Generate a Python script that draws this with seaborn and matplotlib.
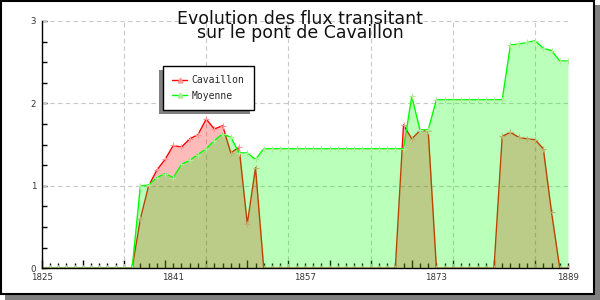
import numpy as np
import pandas as pd
import matplotlib
matplotlib.use("Agg")
import matplotlib.pyplot as plt
import seaborn as sns
from matplotlib.patches import Rectangle
from matplotlib.lines import Line2D
from matplotlib.transforms import IdentityTransform
from matplotlib.ticker import MultipleLocator, FixedLocator, NullFormatter

years = list(range(1825, 1890))
cavaillon = ([0.0] * 12 +
             [0.60, 1.00, 1.19, 1.32, 1.49, 1.47, 1.57, 1.62, 1.81, 1.69, 1.73, 1.40, 1.47, 0.54, 1.22] +
             [0.0] * 17 +
             [1.74, 1.57, 1.67, 1.67] +
             [0.0] * 8 +
             [1.60, 1.65, 1.59, 1.57, 1.56, 1.45, 0.68] +
             [0.0, 0.0])
moyenne = ([0.0] * 12 +
           [1.00, 1.01, 1.10, 1.15, 1.10, 1.26, 1.31, 1.38, 1.45, 1.55, 1.63, 1.59, 1.40, 1.40, 1.32] +
           [1.45] * 18 +
           [2.085, 1.68, 1.68] +
           [2.045] * 9 +
           [2.71, 2.72, 2.74, 2.76, 2.67, 2.64, 2.515, 2.515])
label_years = [1825, 1841, 1857, 1873, 1889]
series_names = ["Cavaillon", "Moyenne"]
title_text = "Evolution des flux transitant\nsur le pont de Cavaillon"

df = pd.DataFrame({"year": years, "Cavaillon": cavaillon, "Moyenne": moyenne})

sns.set_style("white")
plt.rcParams["font.family"] = ["DejaVu Sans"]

fig = plt.figure(figsize=(6, 3), dpi=100)
fig.patch.set_facecolor("white")
ax = fig.add_axes([41.7 / 600, 1 - 268.3 / 300, (568 - 41.7) / 600, (268.3 - 21) / 300])
ax.set_facecolor("none")

red = "#ff0000"
green = "#00ff00"

# Cavaillon
ax.fill_between(df["year"], 0, df["Cavaillon"], color=red, alpha=0.27, linewidth=0, zorder=2)
sns.lineplot(data=df, x="year", y="Cavaillon", ax=ax, color=red, linewidth=1.0, zorder=3,
             marker="+", markersize=4, markeredgecolor="#ff9999", markeredgewidth=0.8)
# Moyenne
ax.fill_between(df["year"], 0, df["Moyenne"], color=green, alpha=0.27, linewidth=0, zorder=4)
sns.lineplot(data=df, x="year", y="Moyenne", ax=ax, color=green, linewidth=1.0, zorder=5,
             marker="+", markersize=4, markeredgecolor="#aaee99", markeredgewidth=0.8)

ax.set_xlim(1825, 1889)
ax.set_ylim(0, 3)
ax.set_xlabel("")
ax.set_ylabel("")

# grid
for gx in range(1835, 1889, 10):
    ax.axvline(gx, color="#c8c8c8", linestyle=(0, (4, 3)), linewidth=0.8, zorder=1)
for gy in [1, 2, 3]:
    ax.axhline(gy, color="#c8c8c8", linestyle=(0, (4, 3)), linewidth=0.8, zorder=1)

for s in ["top", "right"]:
    ax.spines[s].set_visible(False)
for s in ["left", "bottom"]:
    ax.spines[s].set_color("black")
    ax.spines[s].set_linewidth(1.0)
    ax.spines[s].set_zorder(6)

ax.xaxis.set_major_locator(MultipleLocator(5))
ax.xaxis.set_minor_locator(MultipleLocator(1))
ax.xaxis.set_major_formatter(NullFormatter())
ax.tick_params(axis="x", which="major", direction="in", length=5.5, width=1.0, color="black", bottom=True)
ax.tick_params(axis="x", which="minor", direction="in", length=3.5, width=1.0, color="black", bottom=True)

sec = ax.secondary_xaxis("bottom")
sec.xaxis.set_major_locator(FixedLocator(label_years))
sec.set_xticklabels([str(y) for y in label_years])
sec.tick_params(axis="x", length=0, pad=3.2, labelsize=6.2, labelcolor="#333333")
sec.spines["bottom"].set_visible(False)

ax.yaxis.set_major_locator(MultipleLocator(1))
ax.yaxis.set_minor_locator(MultipleLocator(0.25))
ax.tick_params(axis="y", which="major", direction="in", length=3.5, width=1.0, color="black",
               left=True, labelsize=6.2, labelcolor="#333333", pad=4)
ax.tick_params(axis="y", which="minor", direction="in", length=3.5, width=1.0, color="black", left=True)

# legend
handles = [Line2D([], [], color=red, marker="^", markersize=3.5, markerfacecolor="#ff9999",
                  markeredgecolor="#ff9999", linewidth=1.0),
           Line2D([], [], color=green, marker="^", markersize=3.5, markerfacecolor="#aaee99",
                  markeredgecolor="#aaee99", linewidth=1.0)]
leg = ax.legend(handles, series_names, loc="upper left", bbox_to_anchor=(0.2305, 0.818),
                borderaxespad=0, frameon=True, fancybox=False, framealpha=1,
                edgecolor="black", handlelength=1.5, handletextpad=0.5,
                prop={"family": "DejaVu Sans Mono", "size": 7}, borderpad=0.95, labelspacing=0.55)
leg.get_frame().set_linewidth(1.0)
leg.set_zorder(10)

fig.canvas.draw()
bb = leg.get_window_extent()
ax.add_artist(Rectangle((bb.x0 - 4, bb.y0 - 4), bb.width, bb.height, transform=IdentityTransform(),
                        facecolor="#808080", edgecolor="none", zorder=9))

# title
fig.text(0.5, 1 - 10.0 / 300, title_text, ha="center", va="top", fontsize=12.5,
         linespacing=0.72, color="#111111")

# outer frame with shadow
fig.patches.append(Rectangle((5 / 600, 0), 595 / 600, 295 / 300, transform=fig.transFigure,
                             facecolor="#808080", edgecolor="none", zorder=-2))
fig.patches.append(Rectangle((1 / 600, 6 / 300), 593 / 600, 293 / 300, transform=fig.transFigure,
                             facecolor="white", edgecolor="black", linewidth=1.5, zorder=-1))

fig.savefig("out.png", dpi=100)
